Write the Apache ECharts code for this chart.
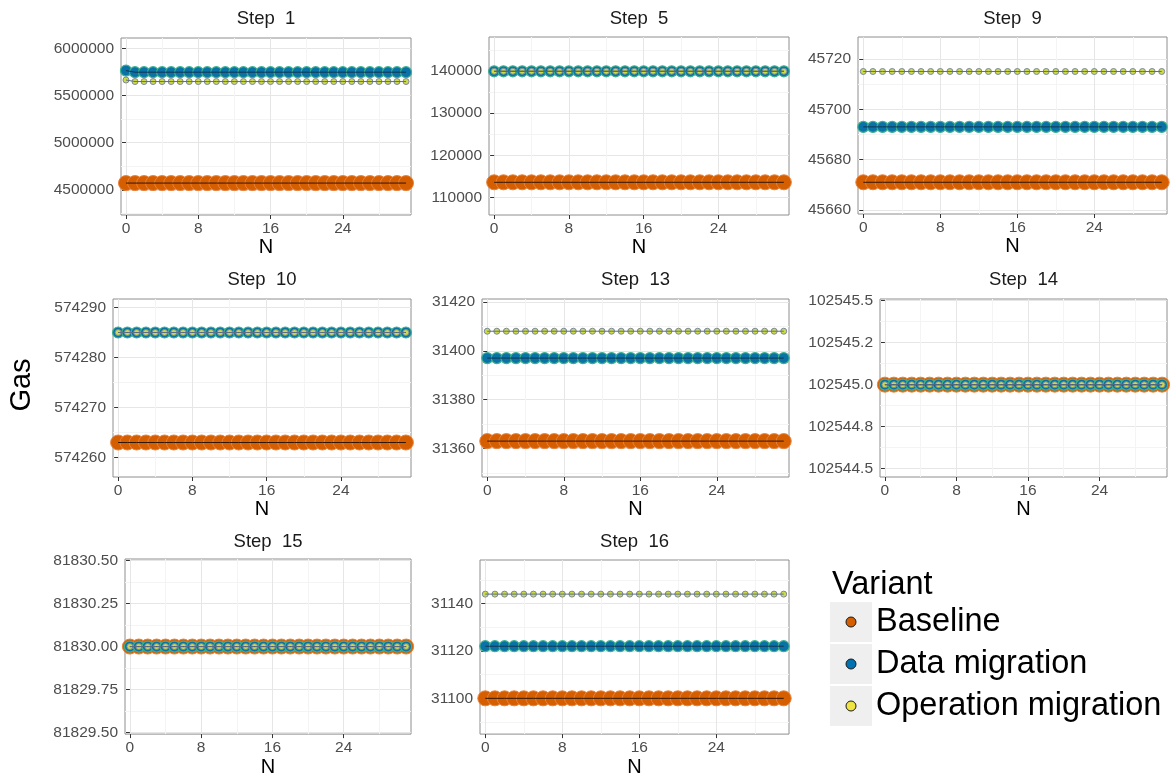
<!DOCTYPE html>
<html>
<head>
<meta charset="utf-8">
<script src="https://cdn.jsdelivr.net/npm/echarts@6/dist/echarts.min.js"></script>
<style>
  html, body { margin: 0; padding: 0; background: #ffffff; }
  #chart { width: 1176px; height: 778px; }
</style>
</head>
<body>
<div id="chart"></div>
<script>
// Gas per run size N, one panel per step, three variants.
const N = [0,1,2,3,4,5,6,7,8,9,10,11,12,13,14,15,16,17,18,19,20,21,22,23,24,25,26,27,28,29,30,31];
const variants = ['Baseline', 'Data migration', 'Operation migration'];
const xTicks = [0, 8, 16, 24];
const xMinorTicks = [4, 12, 20, 28];

// Step 1
const step1Baseline = [4573000,4573000,4573000,4573000,4573000,4573000,4573000,4573000,4573000,4573000,4573000,4573000,4573000,4573000,4573000,4573000,4573000,4573000,4573000,4573000,4573000,4573000,4573000,4573000,4573000,4573000,4573000,4573000,4573000,4573000,4573000,4573000];
const step1Data = [5764000,5747000,5747000,5747000,5747000,5747000,5747000,5747000,5747000,5747000,5747000,5747000,5747000,5747000,5747000,5747000,5747000,5747000,5747000,5747000,5747000,5747000,5747000,5747000,5747000,5747000,5747000,5747000,5747000,5747000,5747000,5747000];
const step1Operation = [5664000,5648000,5648000,5648000,5648000,5648000,5648000,5648000,5648000,5648000,5648000,5648000,5648000,5648000,5648000,5648000,5648000,5648000,5648000,5648000,5648000,5648000,5648000,5648000,5648000,5648000,5648000,5648000,5648000,5648000,5648000,5648000];
const step1Ticks = [4500000, 5000000, 5500000, 6000000];
const step1Labels = ['4500000', '5000000', '5500000', '6000000'];
const step1Minor = [4250000, 4750000, 5250000, 5750000];

// Step 5
const step5Baseline = [113570,113570,113570,113570,113570,113570,113570,113570,113570,113570,113570,113570,113570,113570,113570,113570,113570,113570,113570,113570,113570,113570,113570,113570,113570,113570,113570,113570,113570,113570,113570,113570];
const step5Data = [139950,139950,139950,139950,139950,139950,139950,139950,139950,139950,139950,139950,139950,139950,139950,139950,139950,139950,139950,139950,139950,139950,139950,139950,139950,139950,139950,139950,139950,139950,139950,139950];
const step5Operation = [139950,139950,139950,139950,139950,139950,139950,139950,139950,139950,139950,139950,139950,139950,139950,139950,139950,139950,139950,139950,139950,139950,139950,139950,139950,139950,139950,139950,139950,139950,139950,139950];
const step5Ticks = [110000, 120000, 130000, 140000];
const step5Labels = ['110000', '120000', '130000', '140000'];
const step5Minor = [115000, 125000, 135000, 145000];

// Step 9
const step9Baseline = [45671,45671,45671,45671,45671,45671,45671,45671,45671,45671,45671,45671,45671,45671,45671,45671,45671,45671,45671,45671,45671,45671,45671,45671,45671,45671,45671,45671,45671,45671,45671,45671];
const step9Data = [45693,45693,45693,45693,45693,45693,45693,45693,45693,45693,45693,45693,45693,45693,45693,45693,45693,45693,45693,45693,45693,45693,45693,45693,45693,45693,45693,45693,45693,45693,45693,45693];
const step9Operation = [45715,45715,45715,45715,45715,45715,45715,45715,45715,45715,45715,45715,45715,45715,45715,45715,45715,45715,45715,45715,45715,45715,45715,45715,45715,45715,45715,45715,45715,45715,45715,45715];
const step9Ticks = [45660, 45680, 45700, 45720];
const step9Labels = ['45660', '45680', '45700', '45720'];
const step9Minor = [45670, 45690, 45710];

// Step 10
const step10Baseline = [574263,574263,574263,574263,574263,574263,574263,574263,574263,574263,574263,574263,574263,574263,574263,574263,574263,574263,574263,574263,574263,574263,574263,574263,574263,574263,574263,574263,574263,574263,574263,574263];
const step10Data = [574285,574285,574285,574285,574285,574285,574285,574285,574285,574285,574285,574285,574285,574285,574285,574285,574285,574285,574285,574285,574285,574285,574285,574285,574285,574285,574285,574285,574285,574285,574285,574285];
const step10Operation = [574285,574285,574285,574285,574285,574285,574285,574285,574285,574285,574285,574285,574285,574285,574285,574285,574285,574285,574285,574285,574285,574285,574285,574285,574285,574285,574285,574285,574285,574285,574285,574285];
const step10Ticks = [574260, 574270, 574280, 574290];
const step10Labels = ['574260', '574270', '574280', '574290'];
const step10Minor = [574265, 574275, 574285];

// Step 13
const step13Baseline = [31363,31363,31363,31363,31363,31363,31363,31363,31363,31363,31363,31363,31363,31363,31363,31363,31363,31363,31363,31363,31363,31363,31363,31363,31363,31363,31363,31363,31363,31363,31363,31363];
const step13Data = [31397,31397,31397,31397,31397,31397,31397,31397,31397,31397,31397,31397,31397,31397,31397,31397,31397,31397,31397,31397,31397,31397,31397,31397,31397,31397,31397,31397,31397,31397,31397,31397];
const step13Operation = [31408,31408,31408,31408,31408,31408,31408,31408,31408,31408,31408,31408,31408,31408,31408,31408,31408,31408,31408,31408,31408,31408,31408,31408,31408,31408,31408,31408,31408,31408,31408,31408];
const step13Ticks = [31360, 31380, 31400, 31420];
const step13Labels = ['31360', '31380', '31400', '31420'];
const step13Minor = [31350, 31370, 31390, 31410];

// Step 14
const step14Baseline = [102545,102545,102545,102545,102545,102545,102545,102545,102545,102545,102545,102545,102545,102545,102545,102545,102545,102545,102545,102545,102545,102545,102545,102545,102545,102545,102545,102545,102545,102545,102545,102545];
const step14Data = [102545,102545,102545,102545,102545,102545,102545,102545,102545,102545,102545,102545,102545,102545,102545,102545,102545,102545,102545,102545,102545,102545,102545,102545,102545,102545,102545,102545,102545,102545,102545,102545];
const step14Operation = [102545,102545,102545,102545,102545,102545,102545,102545,102545,102545,102545,102545,102545,102545,102545,102545,102545,102545,102545,102545,102545,102545,102545,102545,102545,102545,102545,102545,102545,102545,102545,102545];
const step14Ticks = [102544.5, 102544.75, 102545, 102545.25, 102545.5];
const step14Labels = ['102544.5', '102544.8', '102545.0', '102545.2', '102545.5'];
const step14Minor = [102544.625, 102544.875, 102545.125, 102545.375];

// Step 15
const step15Baseline = [81830,81830,81830,81830,81830,81830,81830,81830,81830,81830,81830,81830,81830,81830,81830,81830,81830,81830,81830,81830,81830,81830,81830,81830,81830,81830,81830,81830,81830,81830,81830,81830];
const step15Data = [81830,81830,81830,81830,81830,81830,81830,81830,81830,81830,81830,81830,81830,81830,81830,81830,81830,81830,81830,81830,81830,81830,81830,81830,81830,81830,81830,81830,81830,81830,81830,81830];
const step15Operation = [81830,81830,81830,81830,81830,81830,81830,81830,81830,81830,81830,81830,81830,81830,81830,81830,81830,81830,81830,81830,81830,81830,81830,81830,81830,81830,81830,81830,81830,81830,81830,81830];
const step15Ticks = [81829.5, 81829.75, 81830, 81830.25, 81830.5];
const step15Labels = ['81829.50', '81829.75', '81830.00', '81830.25', '81830.50'];
const step15Minor = [81829.625, 81829.875, 81830.125, 81830.375];

// Step 16
const step16Baseline = [31100,31100,31100,31100,31100,31100,31100,31100,31100,31100,31100,31100,31100,31100,31100,31100,31100,31100,31100,31100,31100,31100,31100,31100,31100,31100,31100,31100,31100,31100,31100,31100];
const step16Data = [31122,31122,31122,31122,31122,31122,31122,31122,31122,31122,31122,31122,31122,31122,31122,31122,31122,31122,31122,31122,31122,31122,31122,31122,31122,31122,31122,31122,31122,31122,31122,31122];
const step16Operation = [31144,31144,31144,31144,31144,31144,31144,31144,31144,31144,31144,31144,31144,31144,31144,31144,31144,31144,31144,31144,31144,31144,31144,31144,31144,31144,31144,31144,31144,31144,31144,31144];
const step16Ticks = [31100, 31120, 31140];
const step16Labels = ['31100', '31120', '31140'];
const step16Minor = [31090, 31110, 31130, 31150];

// Panel layout: box edges in px and value range of each y axis.
const panels = [
  { title: 'Step  1',  box: [121, 38, 411, 215],  y: [4235000, 6109000],     ticks: step1Ticks,  labels: step1Labels,  minor: step1Minor,  series: [step1Baseline, step1Data, step1Operation] },
  { title: 'Step  5',  box: [489, 37, 789, 215],  y: [105800, 148100],       ticks: step5Ticks,  labels: step5Labels,  minor: step5Minor,  series: [step5Baseline, step5Data, step5Operation] },
  { title: 'Step  9',  box: [858, 37, 1167, 214], y: [45658.4, 45728.7],     ticks: step9Ticks,  labels: step9Labels,  minor: step9Minor,  series: [step9Baseline, step9Data, step9Operation] },
  { title: 'Step  10', box: [113, 299, 411, 477], y: [574256.1, 574291.7],   ticks: step10Ticks, labels: step10Labels, minor: step10Minor, series: [step10Baseline, step10Data, step10Operation] },
  { title: 'Step  13', box: [482, 299, 789, 477], y: [31348.3, 31421.2],     ticks: step13Ticks, labels: step13Labels, minor: step13Minor, series: [step13Baseline, step13Data, step13Operation] },
  { title: 'Step  14', box: [880, 299, 1167, 477], y: [102544.45, 102545.51], ticks: step14Ticks, labels: step14Labels, minor: step14Minor, series: [step14Baseline, step14Data, step14Operation] },
  { title: 'Step  15', box: [125, 559, 411, 738], y: [81829.49, 81830.51],   ticks: step15Ticks, labels: step15Labels, minor: step15Minor, series: [step15Baseline, step15Data, step15Operation] },
  { title: 'Step  16', box: [480, 560, 789, 740], y: [31084.9, 31158.4],     ticks: step16Ticks, labels: step16Labels, minor: step16Minor, series: [step16Baseline, step16Data, step16Operation] }
];

const titleY = [19, 19, 19, 280, 280, 280, 542, 542];

// Point and line styles per variant
const pointStyle = [
  { size: 15, color: '#D55E00', border: '#E9813A', borderWidth: 1 },
  { size: 11, color: '#0A72A6', border: '#3DB08E', borderWidth: 1.2 },
  { size: 6,  color: '#CCD94A', border: '#7C8A98', borderWidth: 1 }
];
const lineColor = ['#2E1606', '#14344F', '#5E7088'];
const legendFill = ['#D55E00', '#0072B2', '#F0E442'];

const FONT = 'Liberation Sans, Arial, Helvetica, sans-serif';
const grids = [], xAxes = [], yAxes = [], series = [], graphics = [];

panels.forEach((p, i) => {
  const [l, t, r, b] = p.box;
  grids.push({
    left: l, top: t, width: r - l, height: b - t,
    show: true, backgroundColor: '#ffffff',
    borderColor: '#8E8E8E', borderWidth: 1, containLabel: false
  });
  const xBase = {
    type: 'value', gridIndex: i, min: -0.55, max: 31.55,
    axisLine: { show: false }
  };
  xAxes.push(Object.assign({}, xBase, {
    axisTick: { show: true, customValues: xTicks, length: 4, lineStyle: { color: '#333333', width: 1 } },
    axisLabel: { show: true, customValues: xTicks, margin: 6, fontSize: 15.5, color: '#4D4D4D', fontFamily: FONT },
    splitLine: { show: true, lineStyle: { color: '#E6E6E6', width: 1 } },
    name: 'N', nameLocation: 'middle', nameGap: 21,
    nameTextStyle: { fontSize: 20, color: '#000000', fontFamily: FONT }
  }));
  xAxes.push(Object.assign({}, xBase, {
    axisTick: { show: false, customValues: xMinorTicks },
    axisLabel: { show: false, customValues: xMinorTicks },
    splitLine: { show: true, lineStyle: { color: '#F4F4F4', width: 1 } }
  }));
  const yBase = {
    type: 'value', gridIndex: i, min: p.y[0], max: p.y[1], scale: true,
    axisLine: { show: false }
  };
  const labels = p.labels, ticks = p.ticks;
  yAxes.push(Object.assign({}, yBase, {
    axisTick: { show: true, customValues: ticks, length: 4, lineStyle: { color: '#333333', width: 1 } },
    axisLabel: {
      show: true, customValues: ticks, margin: 7, fontSize: 15.5, color: '#4D4D4D', fontFamily: FONT,
      formatter: v => {
        for (let k = 0; k < ticks.length; k++) if (Math.abs(ticks[k] - v) < 1e-6) return labels[k];
        return '';
      }
    },
    splitLine: { show: true, lineStyle: { color: '#E6E6E6', width: 1 } }
  }));
  yAxes.push(Object.assign({}, yBase, {
    axisTick: { show: false, customValues: p.minor },
    axisLabel: { show: false, customValues: p.minor },
    splitLine: { show: true, lineStyle: { color: '#F4F4F4', width: 1 } }
  }));

  const pairs = p.series.map(arr => N.map((n, k) => [n, arr[k]]));
  const xi = 2 * i, yi = 2 * i;
  const scatter = v => ({
    type: 'scatter', name: variants[v], xAxisIndex: xi, yAxisIndex: yi,
    data: pairs[v], symbol: 'circle', symbolSize: pointStyle[v].size,
    itemStyle: { color: pointStyle[v].color, borderColor: pointStyle[v].border, borderWidth: pointStyle[v].borderWidth, opacity: 1 },
    silent: true
  });
  const line = v => ({
    type: 'line', name: variants[v], xAxisIndex: xi, yAxisIndex: yi,
    data: pairs[v], showSymbol: false, symbol: 'none',
    lineStyle: { color: lineColor[v], width: 1 }, silent: true
  });
  series.push(scatter(0), line(0), scatter(1), line(1), line(2), scatter(2));

  graphics.push({
    type: 'text', x: (l + r) / 2, y: titleY[i],
    style: { text: p.title, fill: '#1A1A1A', font: '18.5px ' + FONT, align: 'center', verticalAlign: 'middle' }
  });
});

// Shared y-axis title
graphics.push({
  type: 'text', x: 22, y: 385, rotation: Math.PI / 2,
  style: { text: 'Gas', fill: '#000000', font: '29px ' + FONT, align: 'center', verticalAlign: 'middle' }
});

// Legend
graphics.push({
  type: 'text', x: 832, y: 585,
  style: { text: 'Variant', fill: '#000000', font: '32.5px ' + FONT, align: 'left', verticalAlign: 'middle' }
});
const keyTop = [602, 644, 686];
variants.forEach((name, v) => {
  graphics.push({ type: 'rect', shape: { x: 830, y: keyTop[v], width: 42, height: 40 }, style: { fill: '#EFEFEF' } });
  graphics.push({ type: 'circle', shape: { cx: 851, cy: keyTop[v] + 20, r: 5 }, style: { fill: legendFill[v], stroke: '#1A1A1A', lineWidth: 1 } });
  graphics.push({
    type: 'text', x: 876, y: keyTop[v] + 20,
    style: { text: name, fill: '#000000', font: '32.5px ' + FONT, align: 'left', verticalAlign: 'middle' }
  });
});

const chart = echarts.init(document.getElementById('chart'), null, { renderer: 'canvas' });
chart.setOption({
  animation: false,
  backgroundColor: '#ffffff',
  textStyle: { fontFamily: FONT },
  grid: grids,
  xAxis: xAxes,
  yAxis: yAxes,
  series: series,
  graphic: graphics
});
</script>
</body>
</html>
